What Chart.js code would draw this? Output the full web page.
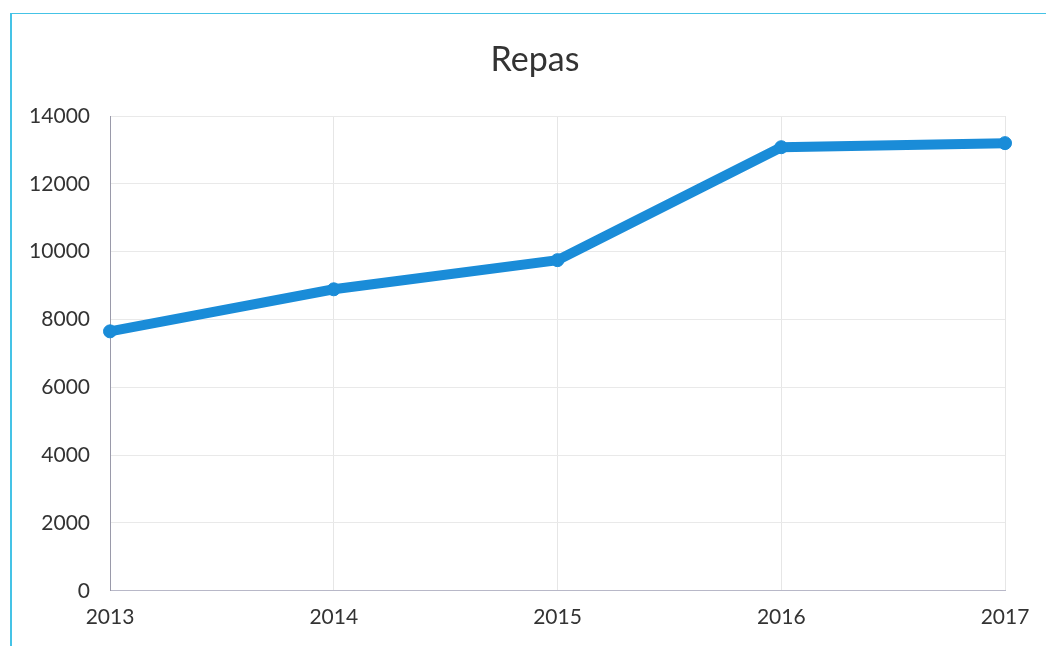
<!DOCTYPE html>
<html>
<head>
<meta charset="utf-8">
<script src="https://cdn.jsdelivr.net/npm/chart.js@4"></script>
<style>
  html, body { margin: 0; padding: 0; background: #fff; }
  #wrap { position: relative; width: 1046px; height: 646px; }
  #frame { position: absolute; left: 10px; top: 13px; right: 0; bottom: 0;
           border-top: 1px solid #45c3e6; border-left: 2px solid #45c3e6; }
  canvas { position: absolute; left: 0; top: 0; }
</style>
</head>
<body>
<div id="wrap">
  <div id="frame"></div>
  <canvas id="repas" width="1046" height="646"></canvas>
</div>
<script>
const annees = ['2013', '2014', '2015', '2016', '2017'];
const repas = [7650, 8890, 9750, 13080, 13200];
const yMin = 0, yMax = 14000, yStep = 2000;
const titre = 'Repas';

Chart.defaults.font.family = "Lato, 'Open Sans', sans-serif";
Chart.defaults.color = '#333';

// titre centré sur le cadre (qui déborde à droite), pas sur le canvas
const titrePlugin = {
    id: 'titreCadre',
    afterDraw(chart) {
        const ctx = chart.ctx;
        ctx.save();
        ctx.font = "normal 34px Lato, 'Open Sans', sans-serif";
        ctx.fillStyle = '#333';
        ctx.textAlign = 'center';
        ctx.textBaseline = 'middle';
        ctx.fillText(titre, chart.width / 2 + 12, 60);
        ctx.restore();
    }
};

let ligne = new Chart(document.getElementById("repas"), {
    type: 'line',
    data: {
        labels: annees,
        datasets: [{
            label: titre,
            data: repas,
            borderColor: "#1a8cd8",
            backgroundColor: "#1a8cd8",
            borderWidth: 10,
            pointRadius: 6.5,
            pointBorderWidth: 1,
            pointHoverRadius: 6.5,
            tension: 0
        }]
    },
    options: {
        responsive: false,
        animation: false,
        layout: {
            padding: { left: 20, right: 41, top: 116, bottom: 2 }
        },
        plugins: {
            legend: { display: false },
            tooltip: { enabled: false },
            title: { display: false }
        },
        scales: {
            x: {
                offset: false,
                grid: { color: '#e6e6e6', drawTicks: false },
                border: { color: '#b8b8c8' },
                ticks: { font: { size: 21 }, padding: 14, maxRotation: 0 }
            },
            y: {
                min: yMin,
                max: yMax,
                grid: { color: '#e9e9e9', drawTicks: false },
                border: { color: '#9a9aaa' },
                ticks: {
                    stepSize: yStep,
                    font: { size: 21 },
                    padding: 20,
                    callback: (v) => String(v)
                },
                afterFit: (scale) => { scale.width = 90; }
            }
        }
    },
    plugins: [titrePlugin]
})
</script>
</body>
</html>
